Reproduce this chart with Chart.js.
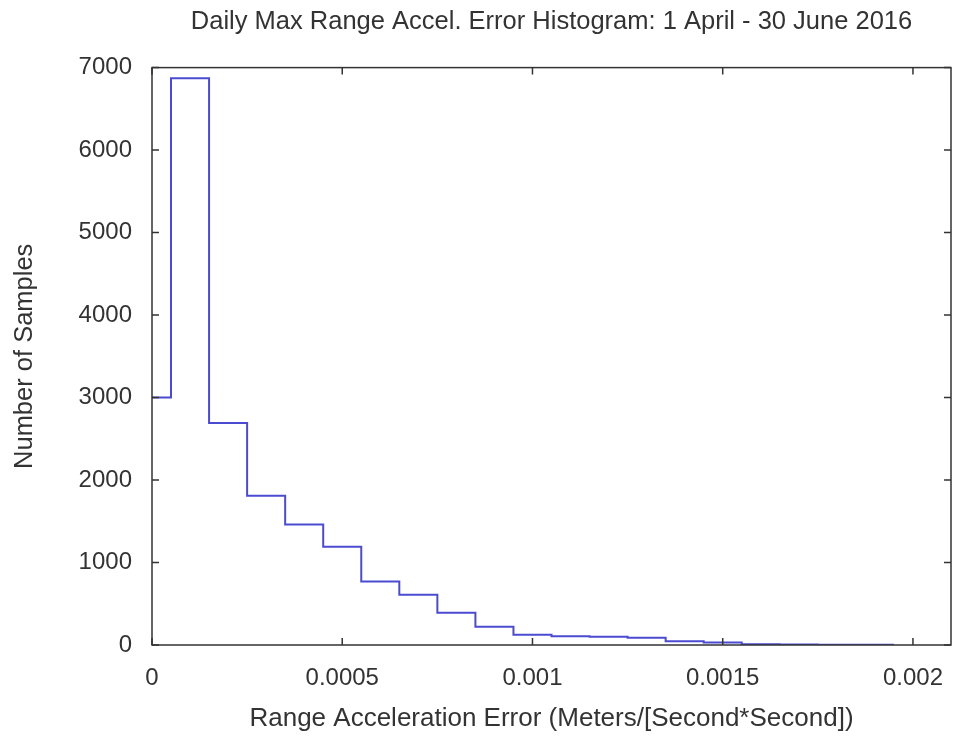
<!DOCTYPE html>
<html>
<head>
<meta charset="utf-8">
<script src="https://cdn.jsdelivr.net/npm/chart.js@4.4.1/dist/chart.umd.min.js"></script>
<style>
  html, body { margin: 0; padding: 0; background: #fff; }
  #wrap { width: 953px; height: 738px; }
</style>
</head>
<body>
<div id="wrap"><canvas id="chart" width="953" height="738"></canvas></div>
<script>
// histogram bins (bin centres) and counts
const binCenters = [0, 0.0001, 0.0002, 0.0003, 0.0004, 0.0005, 0.0006, 0.0007, 0.0008, 0.0009,
  0.001, 0.0011, 0.0012, 0.0013, 0.0014, 0.0015, 0.0016, 0.0017, 0.0018, 0.0019];
const binCounts = [3000, 6870, 2690, 1810, 1460, 1190, 770, 610, 390, 220,
  125, 105, 100, 88, 45, 30, 10, 6, 4, 3];
const binWidth = 0.0001;

const xTickValues = [0, 0.0005, 0.001, 0.0015, 0.002];
const xTickLabels = ["0", "0.0005", "0.001", "0.0015", "0.002"];
const yTickValues = [0, 1000, 2000, 3000, 4000, 5000, 6000, 7000];

const textColor = "#333";
const fontFamily = "'Liberation Sans', Arial, sans-serif";

// step points: left edge of every bin, plus the right edge of the last one
const stepPoints = binCenters.map((c, i) => ({ x: c - binWidth / 2, y: binCounts[i] }));
stepPoints.push({
  x: binCenters[binCenters.length - 1] + binWidth / 2,
  y: binCounts[binCounts.length - 1],
});

// gnuplot-like frame with inward ticks on all four sides
const framePlugin = {
  id: "frame",
  afterDraw(chart) {
    const { ctx, chartArea: a, scales } = chart;
    ctx.save();
    ctx.strokeStyle = "#333";
    ctx.lineWidth = 1.5;
    ctx.strokeRect(a.left, a.top, a.right - a.left, a.bottom - a.top);
    const t = 7;
    ctx.beginPath();
    xTickValues.forEach((v) => {
      const px = scales.x.getPixelForValue(v);
      ctx.moveTo(px, a.bottom); ctx.lineTo(px, a.bottom - t);
      ctx.moveTo(px, a.top); ctx.lineTo(px, a.top + t);
    });
    yTickValues.forEach((v) => {
      const py = scales.y.getPixelForValue(v);
      ctx.moveTo(a.left, py); ctx.lineTo(a.left + t, py);
      ctx.moveTo(a.right, py); ctx.lineTo(a.right - t, py);
    });
    ctx.stroke();
    ctx.restore();
  },
};

const ctx = document.getElementById("chart").getContext("2d");
const chart = new Chart(ctx, {
  type: "line",
  data: {
    datasets: [
      {
        data: stepPoints,
        stepped: true,
        borderColor: "#4b4bd2",
        borderWidth: 2,
        pointRadius: 0,
        fill: false,
      },
    ],
  },
  options: {
    responsive: false,
    animation: false,
    layout: { padding: { left: 0, right: 2, top: 0, bottom: 0 } },
    plugins: {
      legend: { display: false },
      tooltip: { enabled: false },
      title: {
        display: true,
        fullSize: false,
        text: "Daily Max Range Accel. Error Histogram: 1 April - 30 June 2016",
        color: textColor,
        font: { family: fontFamily, size: 25.5, weight: "normal" },
        padding: { top: 7, bottom: 30 },
      },
    },
    scales: {
      x: {
        type: "linear",
        min: 0,
        max: 0.0021,
        grid: { display: false, drawTicks: false },
        border: { display: false },
        afterBuildTicks: (scale) => {
          scale.ticks = xTickValues.map((v) => ({ value: v }));
        },
        afterFit: (scale) => {
          scale.height = 93;
          scale.paddingLeft = 0;
          scale.paddingRight = 0;
        },
        ticks: {
          color: textColor,
          font: { family: fontFamily, size: 24 },
          padding: 19,
          maxRotation: 0,
          callback: (v, i) => xTickLabels[i],
        },
        title: {
          display: true,
          text: "Range Acceleration Error (Meters/[Second*Second])",
          color: textColor,
          font: { family: fontFamily, size: 26 },
          padding: { top: 10, bottom: 4 },
        },
      },
      y: {
        min: 0,
        max: 7000,
        grid: { display: false, drawTicks: false },
        border: { display: false },
        afterBuildTicks: (scale) => {
          scale.ticks = yTickValues.map((v) => ({ value: v }));
        },
        afterFit: (scale) => { scale.width = 152; },
        ticks: {
          color: textColor,
          font: { family: fontFamily, size: 24 },
          padding: 20,
          callback: (v) => String(v),
        },
        title: {
          display: true,
          text: "Number of Samples",
          color: textColor,
          font: { family: fontFamily, size: 25.5 },
          padding: { top: 10, bottom: 10 },
        },
      },
    },
  },
  plugins: [framePlugin],
});
</script>
</body>
</html>
